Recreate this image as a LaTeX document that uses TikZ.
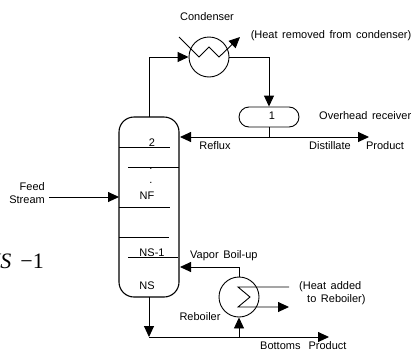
\documentclass[tikz,border=0pt]{standalone}
\usepackage{fontspec}
\setmainfont[WordSpace=1.5]{Liberation Sans}
\newfontfamily\serifface{Liberation Serif}
\usetikzlibrary{arrows.meta}
\tikzset{
  lab/.style={inner sep=0pt,font=\fontsize{11}{13}\selectfont,text=black},
  tray/.style={line width=0.9pt},
  pipe/.style={line width=0.9pt},
  arr/.style={pipe,-{Triangle[length=11pt,width=10pt]}},
  vessel/.style={draw,line width=1.1pt}
}
\begin{document}
\begin{tikzpicture}[x=1pt,y=-1pt]
\useasboundingbox (0,0) rectangle (414,351);
% column
\draw[vessel,rounded corners=15pt] (119,240) -- (119,117) -- (179,117) -- (179,297) -- (119,297) -- cycle;
\coordinate (colTop) at (149,117);
\coordinate (colBot) at (149,297);
\coordinate (refluxIn) at (180,137);
\coordinate (feedIn) at (119,197);
\coordinate (vapIn) at (180,267);
% trays
\draw[tray] (119,147) -- (170,147);
\draw[tray] (128,167) -- (179,167);
\draw[tray] (119,207) -- (170,207);
\draw[tray] (119,237) -- (169,237);
\draw[tray] (128,257) -- (178,257);
\node[lab] (t2) at (152,142.5) {2};
\node[lab] (tnf) at (147,196) {NF};
\node[lab] (tns1) at (152,253) {NS-1};
\node[lab] (tns) at (147,286) {NS};
\node[lab] (d1) at (151,169) {.};
\node[lab] (d2) at (151,183) {.};
% condenser
\node[circle,draw,line width=0.9pt,minimum size=40pt,inner sep=0pt] (cond) at (209,57) {};
\node[lab] (condl) at (207,17) {Condenser};
\node[lab] (heatout) at (331,36) {(Heat removed from condenser)};
\coordinate (cA) at (179,37);
\coordinate (cB) at (199,57);
\coordinate (cC) at (209,47);
\coordinate (cD) at (219,57);
\coordinate (cE) at (240,37);
\draw[arr] (cA) -- (cB) -- (cC) -- (cD) -- (cE);
\coordinate (vapBend) at (149,57);
\draw[arr] (colTop) -- (vapBend) -- (cond.west);
% receiver
\node[draw,line width=0.9pt,rounded corners=10pt,minimum width=60pt,minimum height=20pt,inner sep=0pt] (rec) at (269,117) {};
\node[lab] (rec1) at (272,116) {1};
\node[lab,anchor=west] (ovh) at (319,116) {Overhead receiver};
\coordinate (condBend) at (269,57);
\draw[arr] (cond.east) -- (condBend) -- (rec.north);
\coordinate (junc) at (269,137);
\draw[pipe] (rec.south) -- (junc);
\coordinate (prodEnd) at (369,137);
\draw[arr] (junc) -- (refluxIn);
\draw[arr] (junc) -- (prodEnd);
\node[lab] (reflux) at (215,146) {Reflux};
\node[lab] (dist) at (330,146) {Distillate};
\node[lab] (prod) at (385,146) {Product};
% feed
\node[lab,align=right,anchor=east] (feed) at (45,193.5) {Feed\\Stream};
\coordinate (feedStart) at (49,197);
\draw[arr] (feedStart) -- (feedIn);
\node[font=\fontsize{22}{24}\selectfont,inner sep=0pt,anchor=east] (frag) at (44,261) {\serifface\itshape NS\kern9pt\upshape −1};
% reboiler
\node[circle,draw,line width=0.9pt,minimum size=40pt,inner sep=0pt] (reb) at (239,297) {};
\coordinate (vapBend2) at (239,267);
\draw[arr] (reb.north) -- (vapBend2) -- (vapIn);
\node[lab,anchor=west] (vapl) at (190,256) {Vapor Boil-up};
\node[lab] (rebl) at (200,317) {Reboiler};
\coordinate (hA) at (289,287);
\coordinate (hB) at (238,287);
\coordinate (hC) at (250,297);
\coordinate (hD) at (238,307);
\coordinate (hE) at (289,307);
\draw[arr,line join=miter] (hA) -- (hB) -- (hC) -- (hD) -- (hE);
\node[lab,align=left,anchor=west] (heatin) at (299,293.5) {(Heat added\\\hspace*{8pt}to Reboiler)};
% bottoms
\coordinate (botJ) at (149,337);
\coordinate (botEnd) at (329,337);
\coordinate (rebJ) at (239,337);
\draw[arr] (colBot) -- (botJ);
\draw[arr] (botJ) -- (botEnd);
\draw[arr] (rebJ) -- (reb.south);
\node[lab,anchor=west] (botl) at (260,346) {Bottoms\hspace{8pt}Product};
\end{tikzpicture}
\end{document}
